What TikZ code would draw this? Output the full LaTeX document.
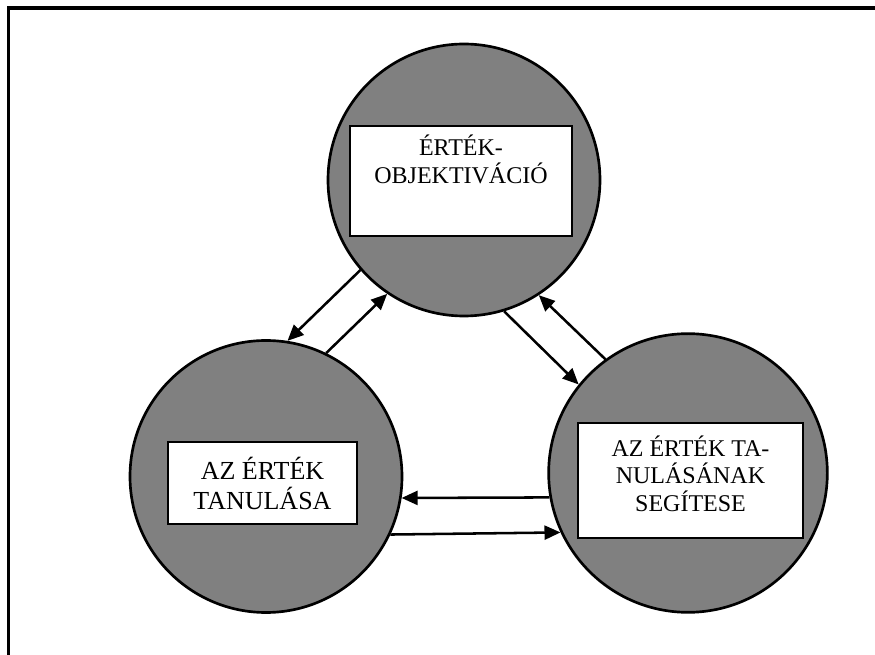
\documentclass[tikz,border=0pt]{standalone}
\usepackage{fontspec}
\setmainfont{Liberation Serif}
\usetikzlibrary{arrows.meta, positioning}
\tikzset{
stage/.style={ % Gray circles of the three stages
circle, draw, line width=2pt,
fill=black!50, inner sep=0pt},
namebox/.style={ % White boxes inside the circles
rectangle, draw, line width=1.6pt,
fill=white, inner sep=0pt},
boxtext/.style={ % Text in the boxes
align=center, inner sep=0pt,
font=\fontsize{18}{21}\selectfont},
flow/.style={ % Arrows between the circles
draw, line width=1.9pt,
-{Triangle[length=12pt, width=10.5pt]}}}

\begin{document}
\begin{tikzpicture}[x=0.75pt, y=-0.75pt]

    \useasboundingbox (0,0) rectangle (875,655);
    \draw[line width=2.3pt] (8.5,655) -- (8.5,8) -- (875,8);

    \node[stage, minimum size=204pt] (obj) at (464,180) {};
    \node[stage, minimum size=204pt] (learn) at (266,476.5) {};
    \node[stage, minimum size=209pt] (help) at (688,473) {};

    \node[namebox, minimum width=166.5pt, minimum height=82.5pt] (objbox) at (461,181) {};
    \node[boxtext, below=7pt of objbox.north] (objtext) {ÉRTÉK-\\OBJEKTIVÁCIÓ};

    \node[namebox, minimum width=141.75pt, minimum height=61.5pt,
          align=center, font=\fontsize{19.5}{22.5}\selectfont] (learnbox) at (262.5,483) {AZ ÉRTÉK\\TANULÁSA};

    \node[namebox, minimum width=169pt, minimum height=86pt] (helpbox) at (690.5,480.5) {};
    \node[boxtext, font=\fontsize{18}{20.6}\selectfont, below=10pt of helpbox.north] (helptext) {AZ ÉRTÉK TA-\\NULÁSÁNAK\\SEGÍTESE};

    \draw[flow] (obj.221) -- (learn.81);
    \draw[flow] (learn.64) -- (obj.236);
    \draw[flow] (obj.287) -- (help.141);
    \draw[flow] (help.126) -- (obj.303);
    \draw[flow] (help.190) -- (learn.351);
    \draw[flow] (learn.335) -- (help.205);

\end{tikzpicture}
\end{document}
